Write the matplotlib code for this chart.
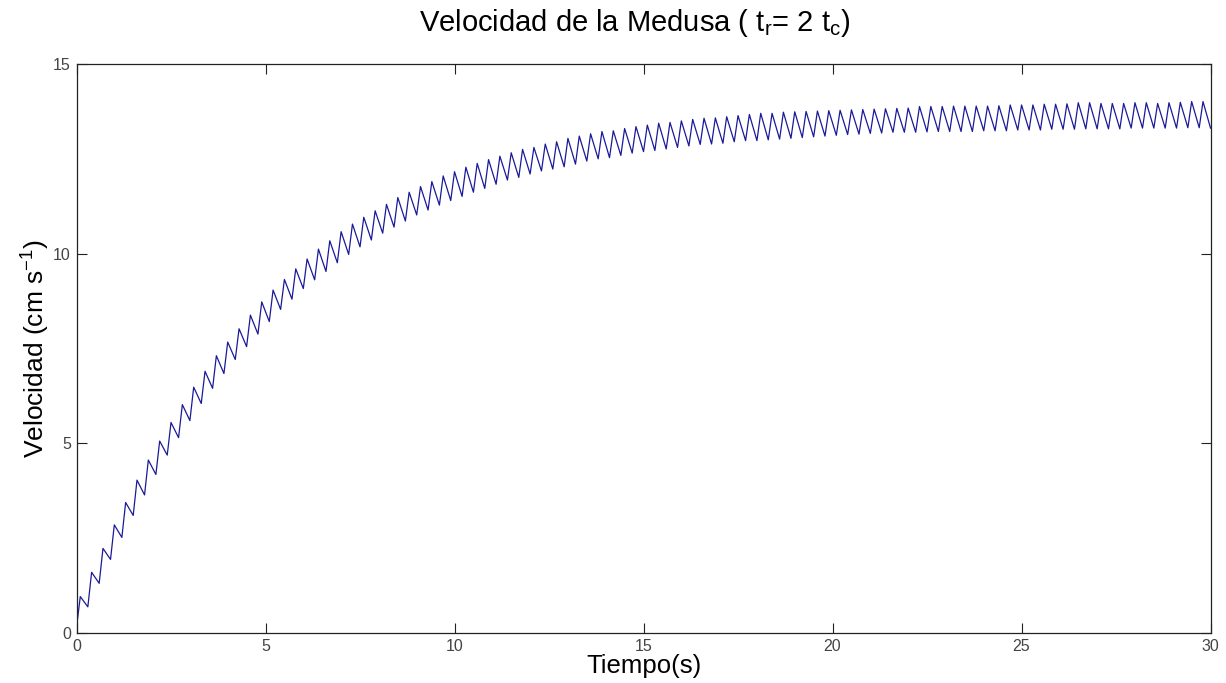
import matplotlib
matplotlib.use("Agg")
import matplotlib.pyplot as plt
import numpy as np

# Tiempos del ciclo de nado (s): contraccion t_c y relajacion t_r = 2 t_c
t_c = 0.1
t_r = 0.2
n_ciclos = 100
v_inicial = 0.15

# Velocidad al final de cada contraccion (picos) y de cada relajacion (valles), cm/s
picos = [0.96, 1.60, 2.23, 2.85, 3.44, 4.03, 4.56, 5.06, 5.55, 6.02,
         6.48, 6.90, 7.31, 7.67, 8.02, 8.38, 8.73, 9.04, 9.32, 9.60,
         9.86, 10.12, 10.34, 10.58, 10.78, 10.96, 11.13, 11.30, 11.48, 11.62,
         11.77, 11.90, 12.05, 12.16, 12.28, 12.38, 12.48, 12.57, 12.66, 12.75,
         12.80, 12.89, 12.95, 13.04, 13.10, 13.16, 13.22, 13.24, 13.30, 13.35,
         13.39, 13.44, 13.46, 13.50, 13.54, 13.57, 13.58, 13.61, 13.64, 13.67,
         13.70, 13.70, 13.73, 13.74, 13.75, 13.76, 13.77, 13.78, 13.79, 13.80,
         13.81, 13.82, 13.83, 13.84, 13.88, 13.88, 13.88, 13.89, 13.89, 13.89,
         13.89, 13.90, 13.92, 13.92, 13.92, 13.94, 13.94, 13.95, 13.98, 13.98,
         13.96, 13.96, 13.96, 13.98, 13.98, 13.96, 13.98, 13.99, 14.01, 14.01]

valles = [0.69, 1.31, 1.94, 2.52, 3.10, 3.64, 4.18, 4.69, 5.15, 5.60,
          6.05, 6.45, 6.84, 7.21, 7.55, 7.88, 8.21, 8.53, 8.80, 9.08,
          9.31, 9.53, 9.76, 9.98, 10.18, 10.36, 10.54, 10.70, 10.86, 11.02,
          11.15, 11.28, 11.40, 11.51, 11.62, 11.72, 11.83, 11.94, 12.01, 12.10,
          12.18, 12.23, 12.29, 12.36, 12.44, 12.50, 12.53, 12.59, 12.65, 12.69,
          12.72, 12.76, 12.80, 12.84, 12.88, 12.89, 12.91, 12.95, 12.98, 12.98,
          13.00, 13.02, 13.04, 13.06, 13.08, 13.10, 13.12, 13.14, 13.15, 13.17,
          13.18, 13.20, 13.20, 13.20, 13.21, 13.22, 13.22, 13.22, 13.22, 13.24,
          13.24, 13.24, 13.26, 13.26, 13.26, 13.28, 13.28, 13.28, 13.29, 13.29,
          13.29, 13.29, 13.31, 13.31, 13.31, 13.31, 13.31, 13.32, 13.32, 13.31]

plt.rcParams['font.family'] = ['Liberation Sans', 'DejaVu Sans']

# Intercalar picos y valles en el eje de tiempo
periodo = t_c + t_r
inicio = np.arange(n_ciclos) * periodo
t = np.concatenate([[0.0], np.column_stack([inicio + t_c, inicio + periodo]).ravel()])
v = np.concatenate([[v_inicial], np.column_stack([picos, valles]).ravel()])

fig = plt.figure(figsize=(12.26, 6.83), dpi=100)
ax = fig.add_axes([0.0624, 0.0732, 0.9250, 0.8331])

ax.plot(t, v, color='#1a1a99', linewidth=0.9)

ax.set_xlim(0, 30)
ax.set_ylim(0, 15)
ax.set_xticks(range(0, 31, 5))
ax.set_yticks(range(0, 16, 5))
ax.tick_params(direction='in', length=7, width=0.8, top=True, right=True,
               labelsize=11.5, pad=4, colors='#222222', labelcolor='#444444')
for s in ax.spines.values():
    s.set_linewidth(0.9)
    s.set_color('#222222')

ax.set_xlabel('Tiempo(s)', fontsize=18.5, labelpad=0)
ax.set_ylabel(r'Velocidad (cm $\mathregular{s^{-1}}$)', fontsize=19, labelpad=1)
ax.set_title(r'Velocidad de la Medusa ( $\mathregular{t_r}$= 2 $\mathregular{t_c}$)',
             fontsize=21, pad=24, x=0.4925)

fig.savefig('out.png', dpi=100)
